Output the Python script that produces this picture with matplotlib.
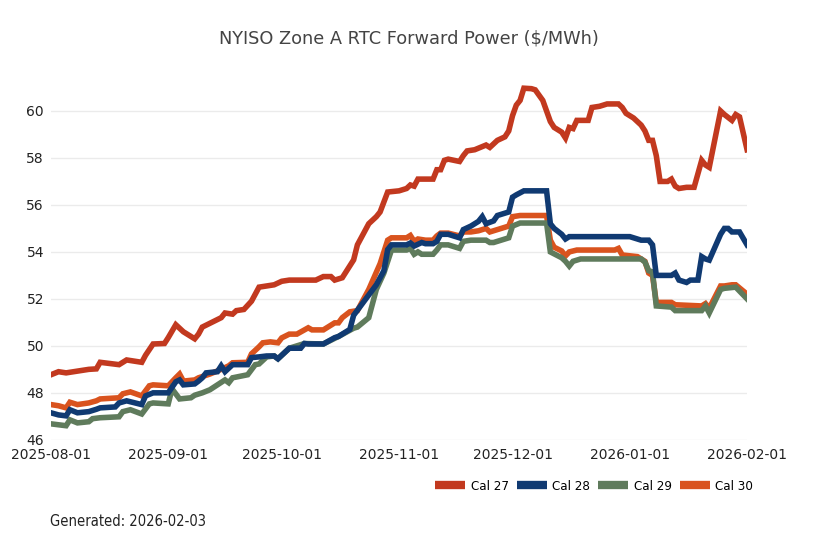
import pandas as pd
import matplotlib
matplotlib.use("Agg")
import matplotlib.pyplot as plt
import matplotlib.dates as mdates
from matplotlib.lines import Line2D

start = pd.Timestamp("2025-08-01")

# days since 2025-08-01, price in $/MWh
cal27_days = [0, 2, 4, 10, 12, 13, 18, 20, 24, 25, 27, 30, 31, 33, 35, 38, 39, 40, 45, 46,
              48, 49, 51, 53, 55, 57, 59, 61, 63, 70, 72, 74, 75, 77, 80, 81, 82, 84, 86, 87,
              89, 92, 94, 95, 96, 97, 101, 102, 103, 104, 105, 108, 109, 110, 112, 115, 116, 117, 118, 120,
              121, 122, 123, 124, 125, 127, 128, 130, 131, 132, 133, 135, 136, 137, 138, 139, 142, 143, 145, 147,
              150, 151, 152, 154, 156, 157, 158, 159, 160, 161, 163, 164, 165, 166, 168, 170, 172, 173, 174, 177,
              178, 180, 181, 182, 184]
cal27 = [48.77, 48.9, 48.85, 49.0, 49.02, 49.3, 49.2, 49.4, 49.3, 49.6, 50.08, 50.1, 50.35, 50.9, 50.6, 50.3, 50.5, 50.8, 51.2, 51.4,
         51.35, 51.5, 51.55, 51.9, 52.5, 52.55, 52.6, 52.75, 52.8, 52.8, 52.95, 52.95, 52.8, 52.9, 53.66, 54.3, 54.6, 55.2, 55.5, 55.7,
         56.55, 56.6, 56.7, 56.85, 56.8, 57.1, 57.1, 57.5, 57.5, 57.9, 57.95, 57.85, 58.1, 58.3, 58.35, 58.55, 58.45, 58.6, 58.75, 58.9,
         59.15, 59.8, 60.25, 60.45, 60.97, 60.95, 60.9, 60.45, 60.0, 59.55, 59.3, 59.1, 58.85, 59.3, 59.25, 59.6, 59.6, 60.15, 60.2, 60.3,
         60.3, 60.15, 59.9, 59.7, 59.4, 59.15, 58.75, 58.75, 58.1, 57.0, 57.0, 57.1, 56.8, 56.7, 56.75, 56.75, 57.9, 57.7, 57.6, 60.0,
         59.85, 59.6, 59.85, 59.75, 58.35]

cal28_days = [0, 2, 4, 5, 7, 10, 12, 13, 17, 18, 20, 24, 25, 27, 31, 33, 34, 35, 38, 39,
              40, 41, 44, 45, 46, 48, 52, 53, 55, 57, 59, 60, 63, 66, 67, 68, 72, 75, 76, 79,
              80, 83, 86, 88, 89, 90, 94, 95, 96, 98, 99, 101, 102, 103, 105, 108, 109, 111, 113, 114,
              115, 117, 118, 121, 122, 123, 125, 131, 132, 133, 135, 136, 137, 153, 156, 158, 159, 160, 164, 165,
              166, 168, 169, 171, 172, 173, 174, 177, 178, 179, 180, 182, 184]
cal28 = [47.15, 47.06, 47.02, 47.28, 47.15, 47.2, 47.3, 47.36, 47.4, 47.57, 47.66, 47.5, 47.87, 48.0, 48.0, 48.47, 48.55, 48.34, 48.38, 48.5,
         48.64, 48.85, 48.9, 49.15, 48.9, 49.2, 49.2, 49.5, 49.53, 49.57, 49.57, 49.45, 49.9, 49.9, 50.1, 50.08, 50.08, 50.35, 50.4, 50.7,
         51.3, 51.95, 52.6, 53.2, 54.1, 54.3, 54.3, 54.38, 54.25, 54.4, 54.35, 54.35, 54.45, 54.75, 54.75, 54.6, 54.95, 55.1, 55.3, 55.5,
         55.2, 55.32, 55.55, 55.7, 56.33, 56.43, 56.6, 56.6, 55.2, 55.0, 54.75, 54.55, 54.65, 54.65, 54.5, 54.5, 54.3, 53.0, 53.0, 53.1,
         52.8, 52.7, 52.8, 52.8, 53.8, 53.7, 53.65, 54.75, 55.0, 55.0, 54.85, 54.85, 54.3]

cal29_days = [0, 2, 4, 5, 7, 10, 11, 13, 18, 19, 21, 24, 26, 27, 31, 32, 34, 37, 38, 40,
              42, 44, 46, 47, 48, 52, 54, 55, 57, 59, 60, 63, 67, 72, 76, 80, 81, 84, 86, 88,
              90, 94, 95, 96, 97, 98, 101, 102, 103, 105, 108, 109, 111, 115, 116, 117, 119, 121, 122, 124,
              131, 132, 135, 136, 137, 138, 140, 156, 157, 158, 159, 160, 164, 165, 172, 173, 174, 177, 178, 181,
              184]
cal29 = [46.68, 46.64, 46.6, 46.85, 46.72, 46.77, 46.9, 46.94, 46.98, 47.2, 47.28, 47.1, 47.53, 47.57, 47.53, 48.17, 47.74, 47.79, 47.9, 48.0,
         48.13, 48.34, 48.55, 48.43, 48.64, 48.77, 49.2, 49.23, 49.53, 49.57, 49.45, 49.9, 50.1, 50.08, 50.4, 50.75, 50.8, 51.2, 52.4, 53.1,
         54.08, 54.08, 54.15, 53.9, 54.0, 53.9, 53.9, 54.08, 54.3, 54.3, 54.15, 54.45, 54.5, 54.5, 54.4, 54.4, 54.5, 54.6, 55.1, 55.23,
         55.23, 54.0, 53.75, 53.6, 53.4, 53.6, 53.7, 53.7, 53.57, 53.2, 53.15, 51.7, 51.65, 51.5, 51.5, 51.7, 51.4, 52.4, 52.45, 52.5,
         52.0]

cal30_days = [0, 2, 4, 5, 7, 10, 12, 13, 18, 19, 21, 24, 26, 27, 31, 33, 34, 35, 38, 39,
              42, 45, 47, 48, 52, 53, 55, 56, 58, 60, 61, 63, 65, 68, 69, 72, 75, 76, 77, 79,
              81, 84, 87, 89, 90, 94, 95, 96, 97, 99, 101, 102, 103, 105, 108, 109, 111, 113, 115, 116,
              117, 119, 121, 122, 124, 131, 132, 133, 135, 136, 137, 139, 149, 150, 151, 155, 157, 158, 159, 160,
              164, 165, 172, 173, 174, 177, 178, 180, 181, 184]
cal30 = [47.5, 47.45, 47.36, 47.6, 47.5, 47.57, 47.66, 47.74, 47.79, 47.96, 48.04, 47.87, 48.3, 48.34, 48.3, 48.64, 48.8, 48.5, 48.55, 48.64,
         48.8, 49.0, 49.15, 49.28, 49.3, 49.66, 49.96, 50.13, 50.17, 50.13, 50.34, 50.5, 50.5, 50.77, 50.68, 50.68, 50.98, 50.98, 51.2, 51.45,
         51.5, 52.4, 53.5, 54.5, 54.6, 54.6, 54.7, 54.45, 54.55, 54.5, 54.5, 54.68, 54.8, 54.8, 54.68, 54.85, 54.85, 54.9, 55.0, 54.85,
         54.9, 55.0, 55.1, 55.5, 55.55, 55.55, 54.5, 54.2, 54.04, 53.83, 54.0, 54.08, 54.08, 54.15, 53.87, 53.8, 53.6, 53.1, 53.0, 51.85,
         51.85, 51.75, 51.7, 51.8, 51.6, 52.55, 52.55, 52.6, 52.6, 52.2]

series = [
    ("Cal 27", cal27_days, cal27, "#c2391f"),
    ("Cal 28", cal28_days, cal28, "#103a72"),
    ("Cal 29", cal29_days, cal29, "#5f7b5c"),
    ("Cal 30", cal30_days, cal30, "#d9531e"),
]

fig = plt.figure(figsize=(8.18, 5.45), dpi=100)
ax = fig.add_axes([0.0623, 0.193, 0.851, 0.668])

lw = 4.0
handles = []
for i, (name, days, vals, col) in enumerate(series):
    dates = start + pd.to_timedelta(days, unit="D")
    ax.plot(dates, vals, color=col, lw=lw, solid_joinstyle="miter", zorder=10 - i)
    handles.append(Line2D([], [], color=col, lw=6, solid_capstyle="butt"))

ax.set_xlim(start, pd.Timestamp("2026-02-01"))
ax.set_ylim(46, 61.5)
ax.set_yticks(range(46, 61, 2))
ax.xaxis.set_major_locator(mdates.MonthLocator())
ax.xaxis.set_major_formatter(mdates.DateFormatter("%Y-%m-%d"))
ax.grid(axis="y", color="#ebebeb", lw=1)
ax.set_axisbelow(True)
for s in ax.spines.values():
    s.set_visible(False)
ax.tick_params(length=0, labelsize=10, colors="#222222", pad=5)
ax.tick_params(axis="x", pad=6)

fig.text(0.5, 1 - 38 / 545, "NYISO Zone A RTC Forward Power ($/MWh)",
         ha="center", va="center", fontsize=12.8, color="#444444")

fig.legend(handles, [s[0] for s in series], loc="center right",
           bbox_to_anchor=(753 / 818, 1 - 486 / 545), ncol=4, frameon=False,
           handlelength=2.3, handletextpad=0.4, columnspacing=0.6,
           borderpad=0, borderaxespad=0,
           prop={"family": ["DejaVu Sans"], "stretch": "condensed", "size": 9.5})

fig.text(50 / 818, 1 - 521 / 545, "Generated: 2026-02-03", ha="left", va="center",
         fontsize=10.5, fontstretch="condensed", color="#222222")

fig.savefig("out.png", dpi=100)
